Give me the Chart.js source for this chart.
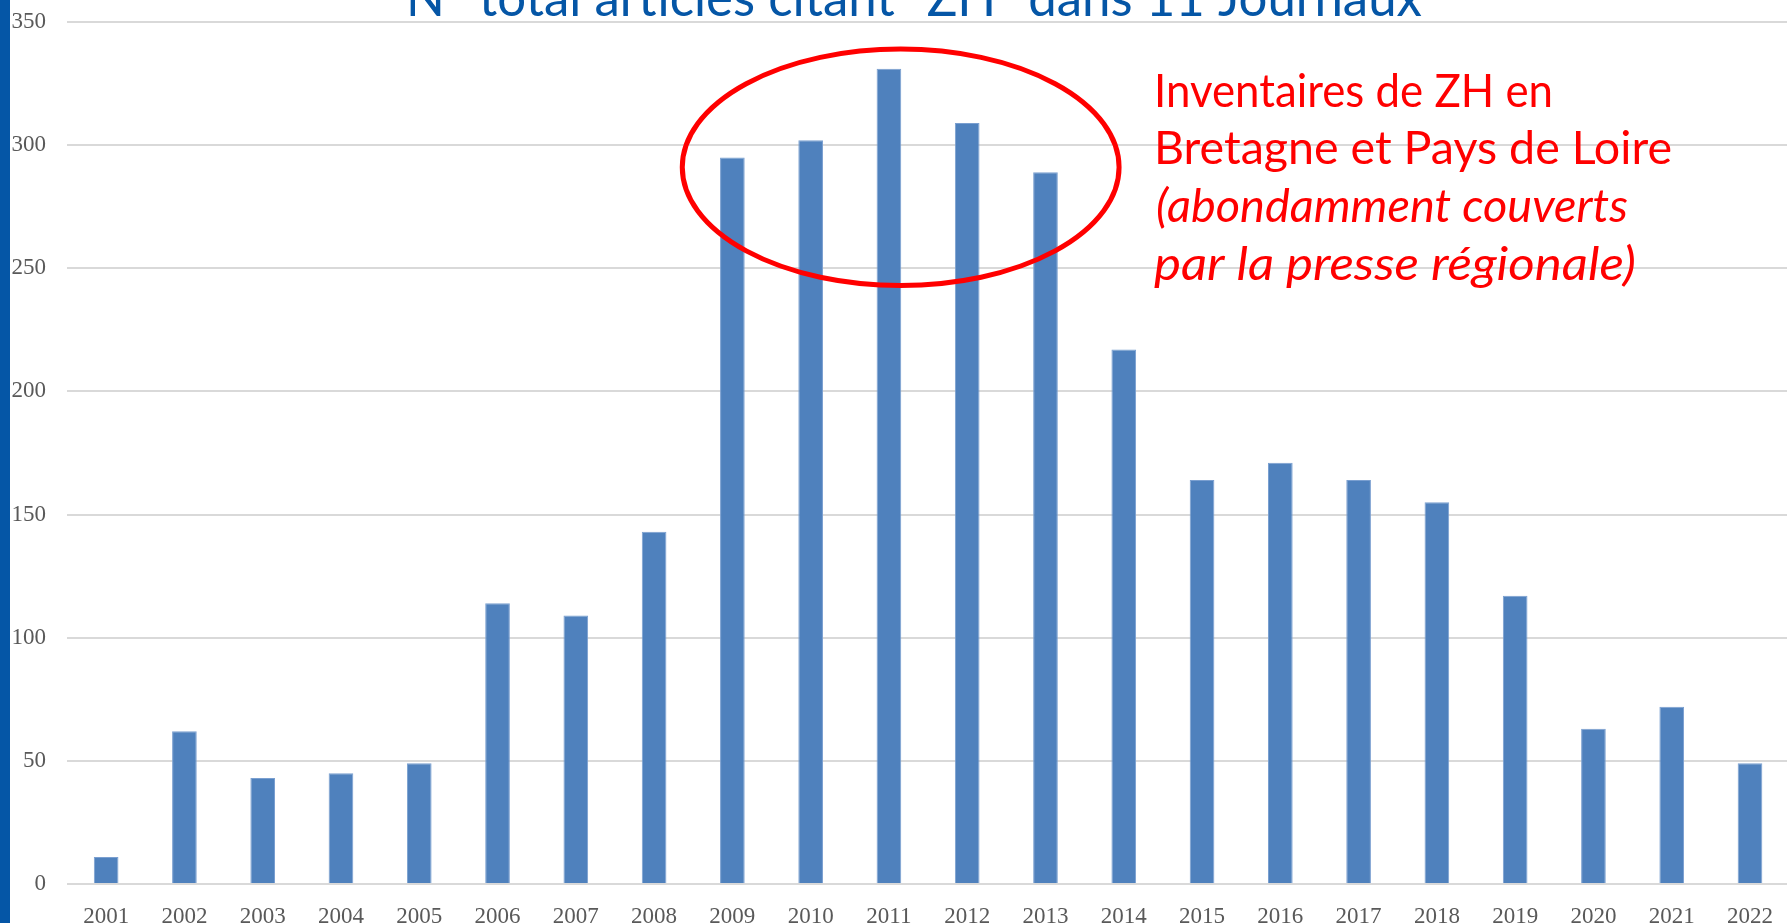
<!DOCTYPE html>
<html>
<head>
<meta charset="utf-8">
<script src="https://cdn.jsdelivr.net/npm/chart.js@4"></script>
<style>
  html, body { margin: 0; padding: 0; overflow: hidden; background: #fff; }
  #wrap { position: relative; width: 1792px; height: 923px; }
  #leftBar { position: absolute; left: 0; top: 0; width: 10px; height: 923px; background: #0556a6; z-index: 2; }
</style>
</head>
<body>
<div id="wrap">
  <div id="leftBar"></div>
  <canvas id="zhChart" width="1792" height="923"></canvas>
</div>
<script>
// Articles citing "ZH" per year
const years = ['2001', '2002', '2003', '2004', '2005', '2006', '2007', '2008', '2009', '2010', '2011',
  '2012', '2013', '2014', '2015', '2016', '2017', '2018', '2019', '2020', '2021', '2022'];
const articleCounts = [11, 62, 43, 45, 49, 114, 109, 143, 295, 302, 331, 309, 289, 217, 164, 171, 164, 155, 117, 63, 72, 49];
const yTicks = [0, 50, 100, 150, 200, 250, 300, 350];

const titleText = 'N° total articles citant "ZH" dans 11 Journaux';
const noteLines = ['Inventaires de ZH en', 'Bretagne et Pays de Loire', '(abondamment couverts', 'par la presse régionale)'];

// draw one line of the note stretched to the width it has in the picture
function fitText(ctx, text, x, y, width) {
  const w = ctx.measureText(text).width;
  ctx.save();
  ctx.translate(x, y);
  ctx.scale(width / w, 1);
  ctx.fillText(text, 0, 0);
  ctx.restore();
}

// title, red ellipse and note drawn on top
const overlayPlugin = {
  id: 'overlay',
  afterDraw(chart) {
    const ctx = chart.ctx;
    const x = chart.scales.x;
    const y = chart.scales.y;
    const step = x.getPixelForValue(1) - x.getPixelForValue(0);

    ctx.save();
    ctx.fillStyle = '#0556a6';
    ctx.font = '52px Lato';
    ctx.textBaseline = 'alphabetic';
    ctx.textAlign = 'left';
    ctx.fillText(titleText, 406, 16, 1016);

    // ellipse round 2009-2013
    const cx = x.getPixelForValue(10) + step * 0.15;
    const cy = y.getPixelForValue(291);
    const rx = step * 2.79;
    const ry = y.getPixelForValue(0) - y.getPixelForValue(48);
    ctx.beginPath();
    ctx.ellipse(cx, cy, rx, ry, 0, 0, Math.PI * 2);
    ctx.strokeStyle = '#ff0000';
    ctx.lineWidth = 5;
    ctx.stroke();

    ctx.fillStyle = '#ff0000';
    ctx.font = '46px Lato';
    fitText(ctx, noteLines[0], 1154, 107, 399);
    fitText(ctx, noteLines[1], 1154, 164, 518);
    ctx.font = 'italic 46px Lato';
    fitText(ctx, noteLines[2], 1156, 222, 472);
    fitText(ctx, noteLines[3], 1154, 280, 482);
    ctx.restore();
  }
};

const chartEl = document.getElementById('zhChart');

const config = {
  type: 'bar',
  data: {
    labels: years,
    datasets: [{
      label: 'Articles',
      data: articleCounts,
      backgroundColor: '#4f81bd',
      borderColor: '#7a9fd0',
      borderWidth: 1,
      categoryPercentage: 1,
      barPercentage: 0.315
    }]
  },
  options: {
    responsive: false,
    animation: false,
    devicePixelRatio: 1,
    layout: {
      padding: { top: 22, right: 0, left: 0, bottom: 0 }
    },
    plugins: {
      legend: { display: false },
      tooltip: { enabled: false }
    },
    scales: {
      x: {
        grid: { display: false, drawTicks: false },
        border: { display: false },
        ticks: {
          color: '#595959',
          font: { family: 'Liberation Serif', size: 23 },
          padding: 19,
          maxRotation: 0,
          autoSkip: false
        },
        afterFit(scale) { scale.height = 39; }
      },
      y: {
        min: 0,
        max: 350,
        afterBuildTicks(scale) { scale.ticks = yTicks.map(v => ({ value: v })); },
        grid: { color: '#d9d9d9', lineWidth: 2, drawTicks: false },
        border: { display: false },
        ticks: {
          color: '#595959',
          font: { family: 'Liberation Serif', size: 23 },
          padding: 21
        },
        afterFit(scale) {
          scale.width = 67;
          scale.paddingTop = 0;
          scale.paddingBottom = 0;
        }
      }
    }
  },
  plugins: [overlayPlugin]
};

new Chart(chartEl, config);
</script>
</body>
</html>
